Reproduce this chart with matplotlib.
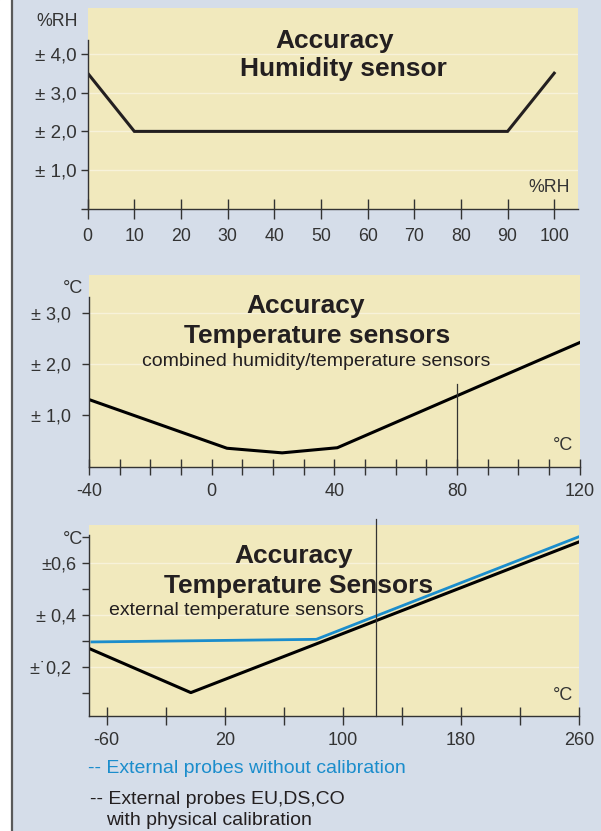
"""
Accuracy curves: humidity sensor, combined humidity/temperature sensors
and external temperature probes (three stacked panels).
"""
import numpy as np
import matplotlib.pyplot as plt
from matplotlib.patches import Rectangle
from matplotlib.lines import Line2D

plt.rcParams['font.family'] = ['Liberation Sans', 'DejaVu Sans']

W, H = 601, 831
BG = '#d5dde9'
PANEL = '#f1e9bd'
GRID = '#f7f2da'
INK = '#231f20'
AXC = '#333333'
BLUE = '#1b8dcc'

# --- data -----------------------------------------------------------------
# (1) humidity sensor, accuracy in %RH vs %RH
rh_x = [0, 10, 90, 100]
rh_acc = [3.5, 2.0, 2.0, 3.5]
rh_xticks = [0, 10, 20, 30, 40, 50, 60, 70, 80, 90, 100]
rh_yticks = [0, 1, 2, 3, 4]
rh_ylabels = ['', '± 1,0', '± 2,0', '± 3,0', '± 4,0']

# (2) combined humidity/temperature sensors, accuracy in degC vs degC
tc_x = [-40, 5, 23, 41, 120]
tc_acc = [1.31, 0.36, 0.27, 0.37, 2.42]
tc_xticks = list(range(-40, 121, 10))
tc_xlabeled = [-40, 0, 40, 80, 120]
tc_yticks = [1, 2, 3]
tc_ylabels = ['± 1,0', '± 2,0', '± 3,0']
tc_mark, tc_mark_top = 80, 1.62

# (3) external temperature sensors
ext_cal_x = [-72, -3, 260]
ext_cal_acc = [0.27, 0.10, 0.68]
ext_raw_x = [-70, 82, 260]
ext_raw_acc = [0.295, 0.305, 0.70]
ext_xticks = list(range(-60, 261, 40))
ext_xlabeled = [-60, 20, 100, 180, 260]
ext_yticks = [0.1, 0.2, 0.3, 0.4, 0.5, 0.6, 0.7]
ext_ylabels = ['', '±˙0,2 ', '', '± 0,4', '', '±0,6', '']
ext_mark, ext_mark_top = 122.5, 0.77


def px_axes(left, top, right, bottom):
    return fig.add_axes([left / W, 1 - bottom / H, (right - left) / W, (bottom - top) / H])


def ftext(x, y, s, **kw):
    kw.setdefault('color', INK)
    fig.text(x / W, 1 - y / H, s, **kw)


def style(ax, spine_top, xlen, xpad, ypad, xfs, yfs):
    ax.set_facecolor(PANEL)
    for s in ('top', 'right'):
        ax.spines[s].set_visible(False)
    for s in ('left', 'bottom'):
        ax.spines[s].set_color(AXC)
        ax.spines[s].set_linewidth(1.0)
    ax.spines['left'].set_bounds(ax.get_ylim()[0], spine_top)
    ax.tick_params(axis='x', direction='inout', length=xlen, width=1.0, color=AXC,
                   pad=xpad, labelsize=xfs, labelcolor=AXC)
    ax.tick_params(axis='y', direction='out', length=5, width=1.0, color=AXC,
                   pad=ypad, labelsize=yfs, labelcolor=AXC)


fig = plt.figure(figsize=(W / 100, H / 100), dpi=100, facecolor=BG)
fig.patches.append(Rectangle((0, 0), 11 / W, 1, transform=fig.transFigure,
                             color='white', zorder=0))
fig.lines.append(Line2D([12 / W, 12 / W], [0, 1], transform=fig.transFigure,
                        color='#5a5a5a', lw=1.6))

# --- (1) humidity -----------------------------------------------------------
ax1 = px_axes(87.7, 8, 578, 209)
ax1.set_xlim(0, 105.1)
ax1.set_ylim(0, 5.18)
for v in rh_yticks[1:]:
    ax1.axhline(v, color=GRID, lw=1.0, zorder=0)
ax1.plot(rh_x, rh_acc, color=INK, lw=2.2, solid_joinstyle='miter')
ax1.set_xticks(rh_xticks)
ax1.set_xticklabels([str(v) for v in rh_xticks])
ax1.set_yticks(rh_yticks)
ax1.set_yticklabels(rh_ylabels)
style(ax1, 4.36, 15, 6, 3, 12.8, 13.5)
ftext(36.7, 26, '%RH', fontsize=12.8, color=AXC)
ftext(570, 191.7, '%RH', fontsize=12.8, color=AXC, ha='right')
ftext(334.5, 48.3, 'Accuracy', fontsize=19, weight='bold', ha='center')
ftext(343, 76, 'Humidity sensor', fontsize=19, weight='bold', ha='center')

# --- (2) combined humidity/temperature sensors -----------------------------
ax2 = px_axes(89, 275, 579.5, 466.7)
ax2.set_xlim(-40, 120)
ax2.set_ylim(0, 3.74)
for v in tc_yticks[1:]:
    ax2.axhline(v, color=GRID, lw=1.0, zorder=0)
ax2.plot(tc_x, tc_acc, color='black', lw=2.2)
ax2.plot([tc_mark, tc_mark], [0, tc_mark_top], color=AXC, lw=0.9)
ax2.set_xticks(tc_xticks)
ax2.set_xticklabels([str(v) if v in tc_xlabeled else '' for v in tc_xticks])
ax2.set_yticks(tc_yticks)
ax2.set_yticklabels(tc_ylabels)
style(ax2, 3.31, 12, 6, 8, 13, 13)
ftext(63, 293.3, '°C', fontsize=13, color=AXC)
ftext(573, 450, '°C', fontsize=13, color=AXC, ha='right')
ftext(306, 312.7, 'Accuracy', fontsize=19, weight='bold', ha='center')
ftext(317, 342.7, 'Temperature sensors', fontsize=19, weight='bold', ha='center')
ftext(315.7, 366, 'combined humidity/temperature sensors', fontsize=14, ha='center')

# --- (3) external temperature sensors --------------------------------------
ax3 = px_axes(89, 525, 579, 716)
ax3.set_xlim(-72, 260)
ax3.set_ylim(0.01, 0.745)
for v in (0.2, 0.4, 0.6):
    ax3.axhline(v, color=GRID, lw=1.0, zorder=0)
ax3.plot(ext_raw_x, ext_raw_acc, color=BLUE, lw=2.0)
ax3.plot(ext_cal_x, ext_cal_acc, color='black', lw=2.2)
ax3.plot([ext_mark, ext_mark], [0.01, ext_mark_top], color=AXC, lw=0.9,
         clip_on=False, zorder=5)
ax3.set_xticks(ext_xticks)
ax3.set_xticklabels([str(v) if v in ext_xlabeled else '' for v in ext_xticks])
ax3.set_yticks(ext_yticks)
ax3.set_yticklabels(ext_ylabels)
style(ax3, 0.707, 13, 5, 4, 13, 13)
ftext(62.7, 544, '°C', fontsize=13, color=AXC)
ftext(573, 700, '°C', fontsize=13, color=AXC, ha='right')
ftext(294, 562.7, 'Accuracy', fontsize=19, weight='bold', ha='center')
ftext(299, 592.7, 'Temperature Sensors', fontsize=19, weight='bold', ha='center')
ftext(236.7, 615, 'external temperature sensors', fontsize=14, ha='center')

ftext(87.7, 773.3, '-- External probes without calibration', fontsize=14, color=BLUE)
ftext(90, 804.3, '-- External probes EU,DS,CO', fontsize=14)
ftext(106, 825, 'with physical calibration', fontsize=14)

fig.savefig('out.png', dpi=100, facecolor=BG)
